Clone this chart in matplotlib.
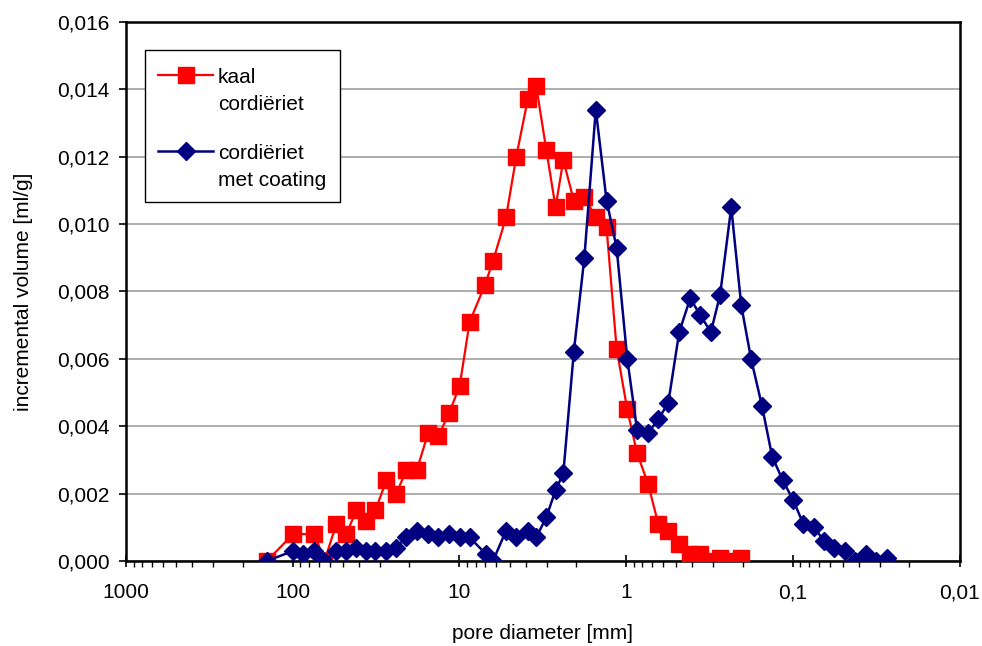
import matplotlib
matplotlib.use("Agg")
import matplotlib.pyplot as plt
from matplotlib.lines import Line2D
from matplotlib.patches import Rectangle
from matplotlib.ticker import FixedLocator, LogLocator, NullFormatter, FuncFormatter

plt.rcParams['font.family'] = ['Liberation Sans', 'DejaVu Sans']

# pore diameter [mm] and incremental volume [ml/g]
kaal_d = [143, 99.2, 74.0, 64.5, 54.7, 47.7, 41.5, 36.4, 31.9, 27.4, 23.9, 20.8,
          18.0, 15.4, 13.4, 11.5, 9.96, 8.68, 7.02, 6.29, 5.25, 4.56, 3.89, 3.46,
          3.01, 2.65, 2.38, 2.06, 1.78, 1.52, 1.31, 1.14, 0.984, 0.860, 0.739,
          0.641, 0.558, 0.480, 0.412, 0.360, 0.310, 0.273, 0.234, 0.204]
kaal_v = [0, 0.0008, 0.0008, 0, 0.0011, 0.0008, 0.0015, 0.0012, 0.0015, 0.0024,
          0.0020, 0.0027, 0.0027, 0.0038, 0.0037, 0.0044, 0.0052, 0.0071, 0.0082,
          0.0089, 0.0102, 0.0120, 0.0137, 0.0141, 0.0122, 0.0105, 0.0119, 0.0107,
          0.0108, 0.0102, 0.0099, 0.0063, 0.0045, 0.0032, 0.0023, 0.0011, 0.0009,
          0.0005, 0.0002, 0.0002, 0.0, 0.0001, 0.0, 0.0001]

coat_d = [143, 99.2, 86.4, 74.0, 64.5, 54.7, 47.7, 41.5, 36.4, 31.9, 27.4, 23.9,
          20.8, 18.0, 15.4, 13.4, 11.5, 9.96, 8.68, 6.92, 6.29, 5.25, 4.56, 3.89,
          3.46, 3.01, 2.65, 2.38, 2.06, 1.78, 1.52, 1.31, 1.14, 0.984, 0.860,
          0.739, 0.641, 0.558, 0.480, 0.412, 0.360, 0.310, 0.273, 0.234, 0.204,
          0.178, 0.153, 0.133, 0.115, 0.0993, 0.0865, 0.0746, 0.0650, 0.0566,
          0.0486, 0.0423, 0.0365, 0.0318, 0.0273]
coat_v = [0, 0.0003, 0.0002, 0.0003, 0, 0.0003, 0.0003, 0.0004, 0.0003, 0.0003,
          0.0003, 0.0004, 0.0007, 0.0009, 0.0008, 0.0007, 0.0008, 0.0007, 0.0007,
          0.0002, 0, 0.0009, 0.0007, 0.0009, 0.0007, 0.0013, 0.0021, 0.0026,
          0.0062, 0.0090, 0.0134, 0.0107, 0.0093, 0.0060, 0.0039, 0.0038, 0.0042,
          0.0047, 0.0068, 0.0078, 0.0073, 0.0068, 0.0079, 0.0105, 0.0076, 0.0060,
          0.0046, 0.0031, 0.0024, 0.0018, 0.0011, 0.0010, 0.0006, 0.0004, 0.0003,
          0, 0.0002, 0, 0.0001]

x_ticks = [1000, 100, 10, 1, 0.1, 0.01]
x_labels = ['1000', '100', '10', '1', '0,1', '0,01']
y_ticks = [0, 0.002, 0.004, 0.006, 0.008, 0.010, 0.012, 0.014, 0.016]

label_lines = [['kaal', 'cordiëriet'], ['cordiëriet', 'met coating']]

W, H = 982, 646
fig = plt.figure(figsize=(W / 100, H / 100), dpi=100)
ax = fig.add_axes([0.1283, 0.1316, 0.9771 - 0.1283, 0.966 - 0.1316])

styles = [dict(color='#FF0000', lw=1.6, marker='s', ms=11, mec='#FF0000', mfc='#FF0000'),
          dict(color='#000080', lw=1.8, marker='D', ms=8.8, mec='#000080', mfc='#000080')]

ax.plot(kaal_d, kaal_v, zorder=3, **styles[0])
ax.plot(coat_d, coat_v, zorder=4, **styles[1])

ax.set_xscale('log')
ax.set_xlim(1000, 0.01)
ax.set_ylim(0, 0.016)

ax.xaxis.set_major_locator(FixedLocator(x_ticks))
ax.set_xticklabels(x_labels)
ax.xaxis.set_minor_locator(LogLocator(base=10, subs=range(2, 10), numticks=20))
ax.xaxis.set_minor_formatter(NullFormatter())
ax.set_yticks(y_ticks)
ax.yaxis.set_major_formatter(FuncFormatter(lambda v, p: f"{v:.3f}".replace('.', ',')))

ax.grid(axis='y', color='#a0a0a0', lw=1.2)
ax.set_axisbelow(True)
for s in ax.spines.values():
    s.set_linewidth(1.8)
    s.set_color('black')

ax.tick_params(axis='x', which='major', direction='inout', length=8, width=1.2,
               labelsize=15, pad=12)
ax.tick_params(axis='x', which='minor', direction='out', length=4, width=1.0)
ax.tick_params(axis='y', which='major', direction='out', length=5, width=1.2,
               labelsize=15, pad=7)

ax.set_xlabel('pore diameter [mm]', fontsize=15, labelpad=16)
ax.set_ylabel('incremental volume [ml/g]', fontsize=15, labelpad=17)

# legend drawn by hand (handle aligned with the first text line, as in the original)
def fx(px):
    return px / W

def fy(py):
    return 1 - py / H

fig.add_artist(Rectangle((fx(145), fy(202)), fx(340) - fx(145), fy(50) - fy(202),
                         transform=fig.transFigure, facecolor='white',
                         edgecolor='black', lw=1.0, zorder=10))
entry_y = [75, 151]
for i, st in enumerate(styles):
    y = entry_y[i]
    fig.add_artist(Line2D([fx(158), fx(213)], [fy(y), fy(y)], transform=fig.transFigure,
                          color=st['color'], lw=st['lw'], zorder=11))
    fig.add_artist(Line2D([fx(185.5)], [fy(y)], transform=fig.transFigure, ls='none',
                          marker=st['marker'], ms=st['ms'], mec=st['mec'],
                          mfc=st['mfc'], zorder=12))
    for j, line in enumerate(label_lines[i]):
        fig.text(fx(218), fy(y + 8 + 27 * j), line, fontsize=15, ha='left',
                 va='baseline', zorder=12)

fig.savefig('out.png', dpi=100)
